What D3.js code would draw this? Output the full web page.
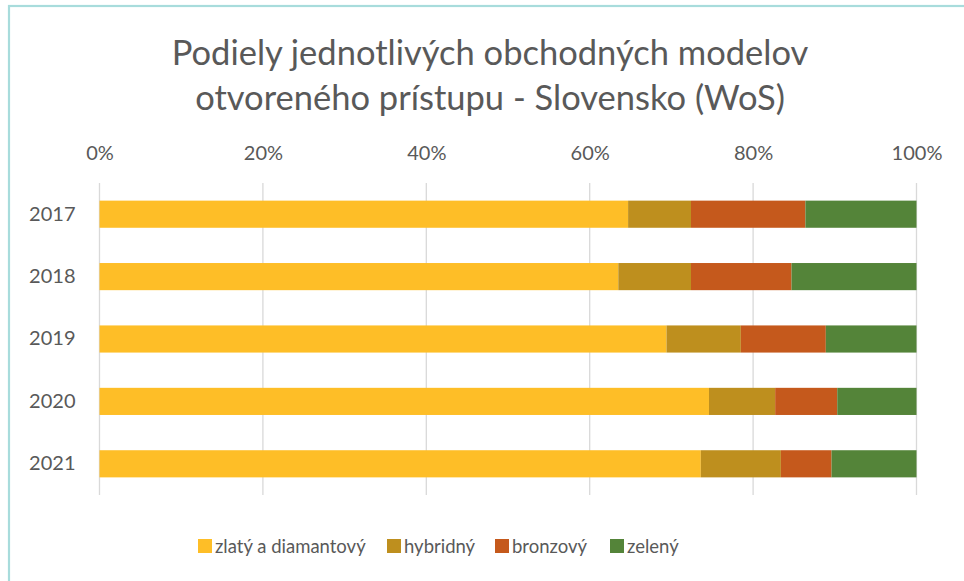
<!DOCTYPE html>
<html>
<head>
<meta charset="utf-8">
<script src="https://cdn.jsdelivr.net/npm/d3@7"></script>
<style>
  html, body { margin: 0; padding: 0; background: #fff; }
  svg { display: block; }
</style>
</head>
<body>
<svg id="chart" width="964" height="581"></svg>
<script>
// ---- data ----
const years = ["2017", "2018", "2019", "2020", "2021"];
const seriesNames = ["zlatý a diamantový", "hybridný", "bronzový", "zelený"];
const zlaty    = [64.7, 63.5, 69.4, 74.6, 73.6];
const hybridny = [7.7, 8.9, 9.1, 8.1, 9.8];
const bronzovy = [14.0, 12.3, 10.4, 7.6, 6.2];
const zeleny   = [13.6, 15.3, 11.1, 9.7, 10.4];
const tickValues = [0, 0.2, 0.4, 0.6, 0.8, 1.0];
const titleLines = ["Podiely jednotlivých obchodných modelov", "otvoreného prístupu - Slovensko (WoS)"];
const colors = ["#FEBE27", "#BE8F1E", "#C5591C", "#548439"];

// ---- layout ----
const svg = d3.select("#chart");
const W = 964, H = 581;
const plot = { left: 99.5, right: 916.5, top: 183, bottom: 495 };
const font = "Lato, 'Open Sans', sans-serif";
const textColor = "#595959";

// frame border
svg.append("rect").attr("x", 9).attr("y", 6).attr("width", W + 20).attr("height", H + 20)
  .attr("fill", "#fff").attr("stroke", "#A8DCDC").attr("stroke-width", 2.2);

// title
svg.append("g").selectAll("text").data(titleLines).join("text")
  .attr("x", 490).attr("y", (d, i) => 65 + i * 45)
  .attr("text-anchor", "middle")
  .attr("font-family", font).attr("font-size", 34.5).attr("font-weight", 400)
  .attr("fill", textColor)
  .text(d => d);

// data table
const table = years.map((y, i) => {
  const vals = [zlaty[i], hybridny[i], bronzovy[i], zeleny[i]];
  const total = d3.sum(vals);
  const row = { year: y };
  seriesNames.forEach((s, k) => row[s] = vals[k] / total);
  return row;
});
const stacked = d3.stack().keys(seriesNames)(table);

const x = d3.scaleLinear().domain([0, 1]).range([plot.left, plot.right]);
const y = d3.scaleBand().domain(years).range([plot.top, plot.bottom]).paddingInner(0.565).paddingOuter(0.2825);

// gridlines
svg.append("g").selectAll("line").data(tickValues).join("line")
  .attr("x1", d => x(d)).attr("x2", d => x(d))
  .attr("y1", plot.top).attr("y2", plot.bottom)
  .attr("stroke", "#D9D9D9").attr("stroke-width", 1.3);

// top axis labels
const xAxis = d3.axisTop(x).tickValues(tickValues).tickFormat(d3.format(".0%")).tickSize(0).tickPadding(0);
const gx = svg.append("g").attr("transform", `translate(0,160)`).call(xAxis);
gx.select(".domain").remove();
gx.selectAll("text").attr("font-family", font).attr("font-size", 20).attr("fill", textColor)
  .attr("dy", "0");

// bars
svg.append("g").selectAll("g").data(stacked).join("g")
  .attr("fill", (d, i) => colors[i])
  .selectAll("rect").data(d => d).join("rect")
  .attr("x", d => x(d[0]))
  .attr("width", d => x(d[1]) - x(d[0]))
  .attr("y", d => y(d.data.year))
  .attr("height", y.bandwidth());

// y axis labels
const yAxis = d3.axisLeft(y).tickSize(0).tickPadding(24);
const gy = svg.append("g").attr("transform", `translate(${plot.left},0)`).call(yAxis);
gy.select(".domain").remove();
gy.selectAll("text").attr("font-family", font).attr("font-size", 20).attr("fill", textColor);

// legend
const legendX = [198, 387, 495, 610];
const lg = svg.append("g").selectAll("g").data(seriesNames).join("g")
  .attr("transform", (d, i) => `translate(${legendX[i]},539)`);
lg.append("rect").attr("width", 14).attr("height", 14).attr("fill", (d, i) => colors[i]);
lg.append("text").attr("x", 17).attr("y", 14)
  .attr("font-family", font).attr("font-size", 18.5).attr("fill", textColor)
  .text(d => d);
</script>
</body>
</html>
